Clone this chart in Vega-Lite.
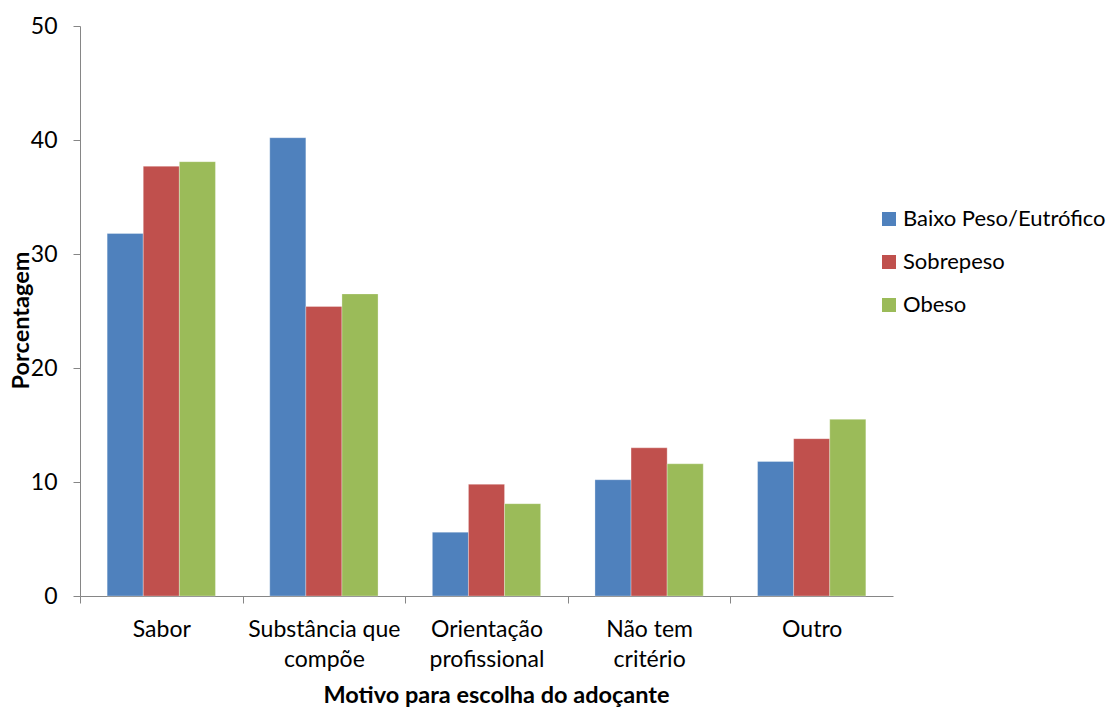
{
  "$schema": "https://vega.github.io/schema/vega-lite/v6.json",
  "width": 813,
  "height": 570,
  "autosize": {"type": "none"},
  "padding": {"left": 80, "top": 26, "right": 219, "bottom": 113},
  "background": "white",
  "config": {
    "font": "Lato",
    "view": {"stroke": null},
    "axis": {"labelFont": "Lato", "titleFont": "Lato", "labelColor": "black", "titleColor": "black", "domainColor": "#868686", "tickColor": "#868686", "grid": false, "labelFontSize": 23, "titleFontSize": 23.5, "titleFontWeight": "bold", "tickSize": 7}
  },
  "data": {
    "values": [
      {"motivo": "Sabor", "grupo": "Baixo Peso/Eutrófico", "pct": 31.8},
      {"motivo": "Sabor", "grupo": "Sobrepeso", "pct": 37.7},
      {"motivo": "Sabor", "grupo": "Obeso", "pct": 38.1},
      {"motivo": "Substância que compõe", "grupo": "Baixo Peso/Eutrófico", "pct": 40.2},
      {"motivo": "Substância que compõe", "grupo": "Sobrepeso", "pct": 25.4},
      {"motivo": "Substância que compõe", "grupo": "Obeso", "pct": 26.5},
      {"motivo": "Orientação profissional", "grupo": "Baixo Peso/Eutrófico", "pct": 5.6},
      {"motivo": "Orientação profissional", "grupo": "Sobrepeso", "pct": 9.8},
      {"motivo": "Orientação profissional", "grupo": "Obeso", "pct": 8.1},
      {"motivo": "Não tem critério", "grupo": "Baixo Peso/Eutrófico", "pct": 10.2},
      {"motivo": "Não tem critério", "grupo": "Sobrepeso", "pct": 13.0},
      {"motivo": "Não tem critério", "grupo": "Obeso", "pct": 11.6},
      {"motivo": "Outro", "grupo": "Baixo Peso/Eutrófico", "pct": 11.8},
      {"motivo": "Outro", "grupo": "Sobrepeso", "pct": 13.8},
      {"motivo": "Outro", "grupo": "Obeso", "pct": 15.5}
    ]
  },
  "mark": {"type": "bar", "stroke": "white", "strokeWidth": 0.5, "strokeOpacity": 0.6},
  "encoding": {
    "x": {
      "field": "motivo",
      "type": "nominal",
      "sort": ["Sabor", "Substância que compõe", "Orientação profissional", "Não tem critério", "Outro"],
      "scale": {"paddingInner": 0.334, "paddingOuter": 0.167},
      "axis": {
        "title": "Motivo para escolha do adoçante",
        "labelAngle": 0,
        "labelAlign": "center",
        "labelBaseline": "top",
        "labelPadding": 15,
        "labelLineHeight": 30,
        "labelExpr": "datum.label == 'Substância que compõe' ? ['Substância que', 'compõe'] : datum.label == 'Orientação profissional' ? ['Orientação', 'profissional'] : datum.label == 'Não tem critério' ? ['Não tem', 'critério'] : datum.label",
        "tickOffset": -81.3,
        "labelOffset": 81.3,
        "titleX": 416,
        "titleY": 99,
        "titleBaseline": "middle",
        "titleAlign": "center"
      }
    },
    "xOffset": {"field": "grupo", "type": "nominal", "sort": ["Baixo Peso/Eutrófico", "Sobrepeso", "Obeso"]},
    "y": {
      "field": "pct",
      "type": "quantitative",
      "scale": {"domain": [0, 50], "nice": false},
      "axis": {"title": "Porcentagem", "values": [0, 10, 20, 30, 40, 50], "labelPadding": 16, "titleX": -59, "titleY": 294, "titleAngle": -90, "titleBaseline": "middle", "titleAlign": "center"}
    },
    "color": {
      "field": "grupo",
      "type": "nominal",
      "sort": ["Baixo Peso/Eutrófico", "Sobrepeso", "Obeso"],
      "scale": {"domain": ["Baixo Peso/Eutrófico", "Sobrepeso", "Obeso"], "range": ["#4F81BD", "#C0504D", "#9BBB59"]},
      "legend": {
        "title": null,
        "orient": "none",
        "legendX": 798,
        "legendY": 182,
        "symbolType": "square",
        "symbolSize": 196,
        "symbolStrokeWidth": 0,
        "labelFont": "Lato",
        "labelFontSize": 22,
        "labelColor": "black",
        "labelLimit": 0,
        "rowPadding": 21,
        "labelOffset": 3
      }
    }
  }
}
